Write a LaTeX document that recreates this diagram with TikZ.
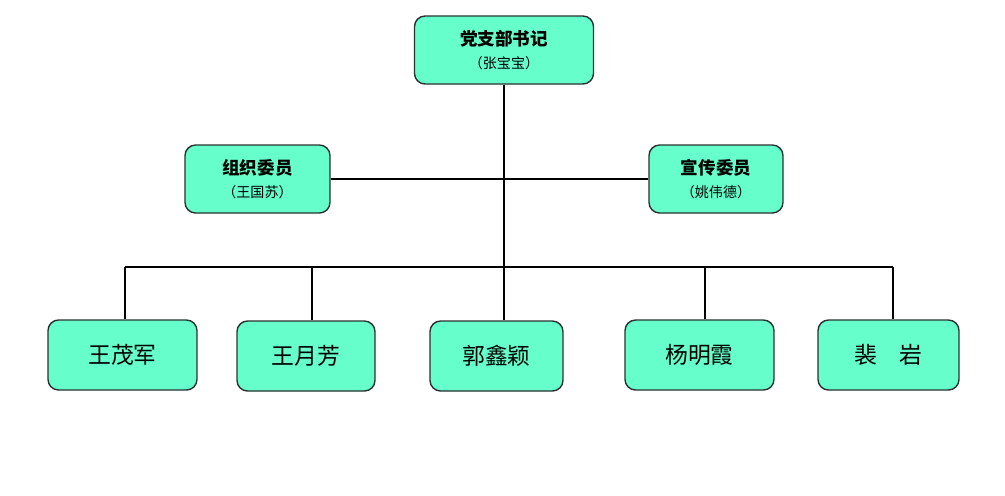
\documentclass[tikz,border=0pt]{standalone}
\usepackage{fontspec}
\newfontfamily\cjk{Noto Sans CJK SC}
\usetikzlibrary{positioning}
\definecolor{boxfill}{RGB}{102,255,204}
\definecolor{boxline}{RGB}{40,50,45}

\begin{document}
\begin{tikzpicture}[x=0.02cm, y=-0.02cm, font=\cjk,
    post/.style={draw=boxline, line width=0.8pt, fill=boxfill, rounded corners=6pt,
        align=center, inner sep=0pt, minimum height=1.36cm,
        font=\cjk\fontsize{10}{13}\selectfont},
    member/.style={draw=boxline, line width=0.8pt, fill=boxfill, rounded corners=6pt,
        inner sep=0pt, minimum height=1.4cm, font=\cjk\fontsize{13}{15}\selectfont},
    link/.style={line width=1.1pt}]
    \useasboundingbox (0,0) rectangle (1005,495);
    % Committee
    \node[post, minimum width=3.58cm] (sec) at (504,50)
        {\bfseries 党支部书记\\{\fontsize{8}{9}\selectfont （张宝宝）}};
    \node[post, minimum width=2.9cm] (org) at (257.5,179)
        {\bfseries 组织委员\\{\fontsize{8}{9}\selectfont （王国苏）}};
    \node[post, minimum width=2.68cm] (prop) at (716,179)
        {\bfseries 宣传委员\\{\fontsize{8}{9}\selectfont （姚伟德）}};
    % Members
    \node[member, minimum width=2.98cm] (m1) at (122.5,355) {王茂军};
    \node[member, minimum width=2.76cm] (m2) at (306,356) {王月芳};
    \node[member, minimum width=2.66cm] (m3) at (496.5,356) {郭鑫颖};
    \node[member, minimum width=2.98cm] (m4) at (699.5,355) {杨明霞};
    \node[member, minimum width=2.82cm] (m5) at (888.5,355) {裴\quad 岩};
    % Lines
    \draw[link] (sec.south) -- (sec.south |- m3.north);
    \draw[link] (org.east) -- (prop.west);
    \coordinate (busL) at (125,267);
    \coordinate (busR) at (893,267);
    \draw[link] (busL) -- (busR);
    \foreach \n/\x in {1/125, 2/312, 4/705, 5/893} {
        \coordinate (b\n) at (\x,267);
        \draw[link] (b\n) -- (b\n |- m\n.north);
    }
\end{tikzpicture}
\end{document}
